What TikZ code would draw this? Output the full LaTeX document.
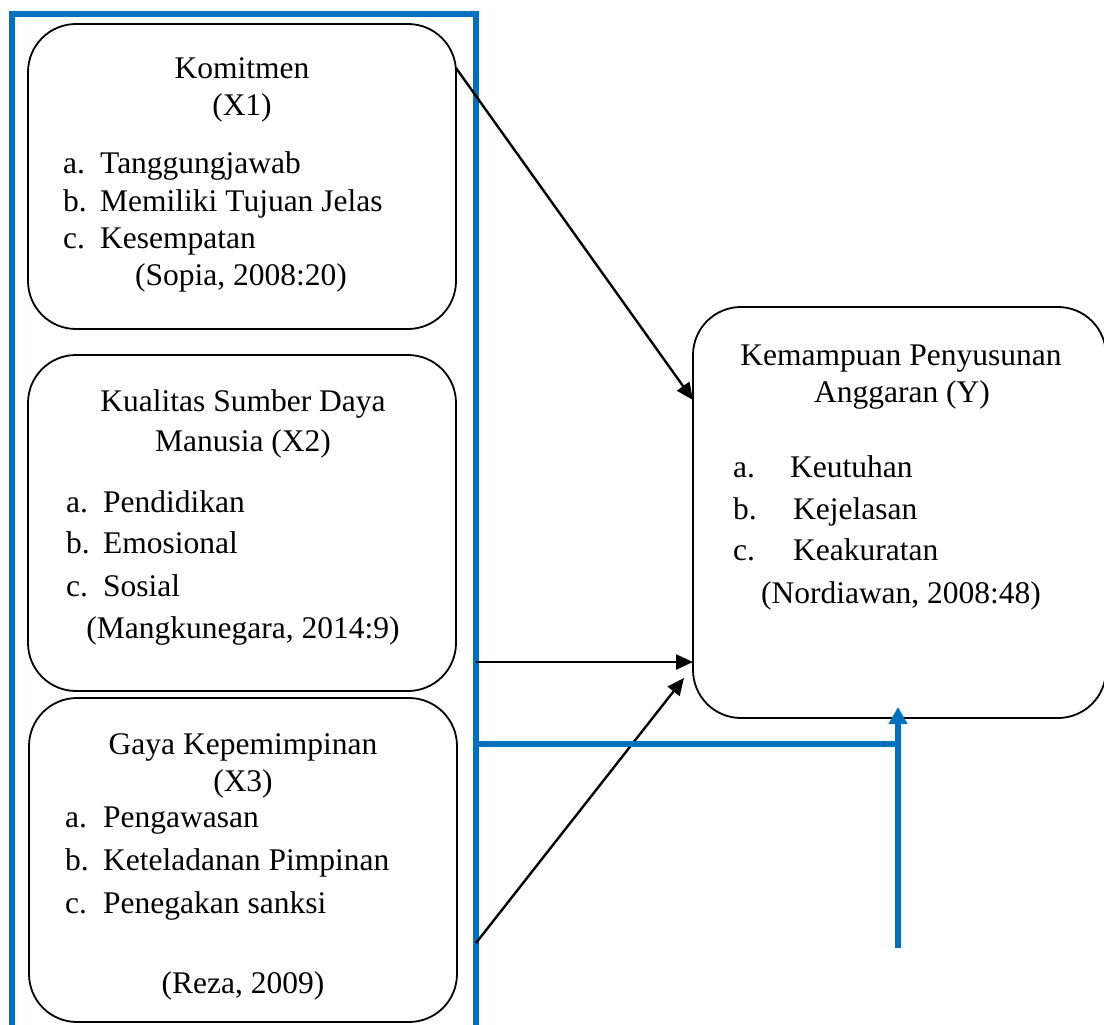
\documentclass[tikz,border=0pt]{standalone}
\usepackage{fontspec}
\setmainfont{Liberation Serif}
\usetikzlibrary{arrows.meta}
\definecolor{wordblue}{RGB}{0,112,192}
\tikzset{
  box/.style={draw=black, line width=1.8pt, rounded corners=48pt, inner sep=0pt},
  txt/.style={inner sep=0pt, font=\fontsize{31.5}{37}\selectfont},
  ctr/.style={txt, anchor=base},
  itm/.style={txt, anchor=base west},
  conn/.style={draw=black, line width=2.4pt, -{Triangle[length=17pt,width=15pt]}},
  blueline/.style={draw=wordblue, line width=6pt},
  bluearrow/.style={draw=wordblue, line width=6pt, -{Triangle[length=17pt,width=18pt]}}
}
\newcommand{\lbl}[2]{\makebox[#1][l]{#2}}
\begin{document}
\begin{tikzpicture}[x=1pt,y=-1pt]
\useasboundingbox (0,0) rectangle (1104,1025);
% blue frame
\coordinate (fbl) at (12,1040);
\coordinate (ftl) at (12,14.5);
\coordinate (ftr) at (476,14.5);
\coordinate (fbr) at (476,1040);
\draw[blueline] (fbl) -- (ftl) -- (ftr) -- (fbr);
% boxes
\node[box, minimum width=428pt, minimum height=305pt] (x1) at (242,176.5) {};
\node[box, minimum width=428pt, minimum height=336pt] (x2) at (242,523) {};
\node[box, minimum width=428pt, minimum height=324pt] (x3) at (243,860) {};
\node[box, minimum width=413pt, minimum height=411pt] (y) at (899.5,512.5) {};
% X1 texts
\node[ctr] (t11) at (242,79) {Komitmen};
\node[ctr] (t12) at (242,116) {(X1)};
\node[itm] (t13) at (63,173) {\lbl{37pt}{a.}Tanggungjawab};
\node[itm] (t14) at (63,211) {\lbl{37pt}{b.}Memiliki Tujuan Jelas};
\node[itm] (t15) at (63,248) {\lbl{37pt}{c.}Kesempatan};
\node[ctr] (t16) at (241,285) {(Sopia, 2008:20)};
% X2 texts
\node[ctr] (t21) at (243,411) {Kualitas Sumber Daya};
\node[ctr] (t22) at (243,451) {Manusia (X2)};
\node[itm] (t23) at (66,512) {\lbl{37pt}{a.}Pendidikan};
\node[itm] (t24) at (66,553) {\lbl{37pt}{b.}Emosional};
\node[itm] (t25) at (66,596) {\lbl{37pt}{c.}Sosial};
\node[ctr] (t26) at (243,638) {(Mangkunegara, 2014:9)};
% X3 texts
\node[ctr] (t31) at (243,754) {Gaya Kepemimpinan};
\node[ctr] (t32) at (243,791) {(X3)};
\node[itm] (t33) at (65,827) {\lbl{38pt}{a.}Pengawasan};
\node[itm] (t34) at (65,870) {\lbl{38pt}{b.}Keteladanan Pimpinan};
\node[itm] (t35) at (65,913) {\lbl{38pt}{c.}Penegakan sanksi};
\node[ctr] (t36) at (243,993) {(Reza, 2009)};
% Y texts
\node[ctr] (ty1) at (901,365) {Kemampuan Penyusunan};
\node[ctr] (ty2) at (902,402) {Anggaran (Y)};
\node[itm] (ty3) at (733,477) {\lbl{57pt}{a.}Keutuhan};
\node[itm] (ty4) at (733,519) {\lbl{60pt}{b.}Kejelasan};
\node[itm] (ty5) at (733,560) {\lbl{60pt}{c.}Keakuratan};
\node[ctr] (ty6) at (901,603) {(Nordiawan, 2008:48)};
% connectors
\coordinate (a1s) at (456,68);
\coordinate (a1e) at (693,400);
\coordinate (a2s) at (476,662);
\coordinate (a2e) at (693,662);
\coordinate (a3s) at (476,943);
\coordinate (a3e) at (684,678);
\draw[conn] (a1s) -- (a1e);
\draw[conn] (a2s) -- (a2e);
\draw[conn] (a3s) -- (a3e);
% blue connectors
\coordinate (bh1) at (476,744);
\coordinate (bh2) at (898,744);
\coordinate (bvs) at (898,948);
\coordinate (bve) at (898,707);
\draw[blueline] (bh1) -- (bh2);
\draw[bluearrow] (bvs) -- (bve);
\end{tikzpicture}
\end{document}
